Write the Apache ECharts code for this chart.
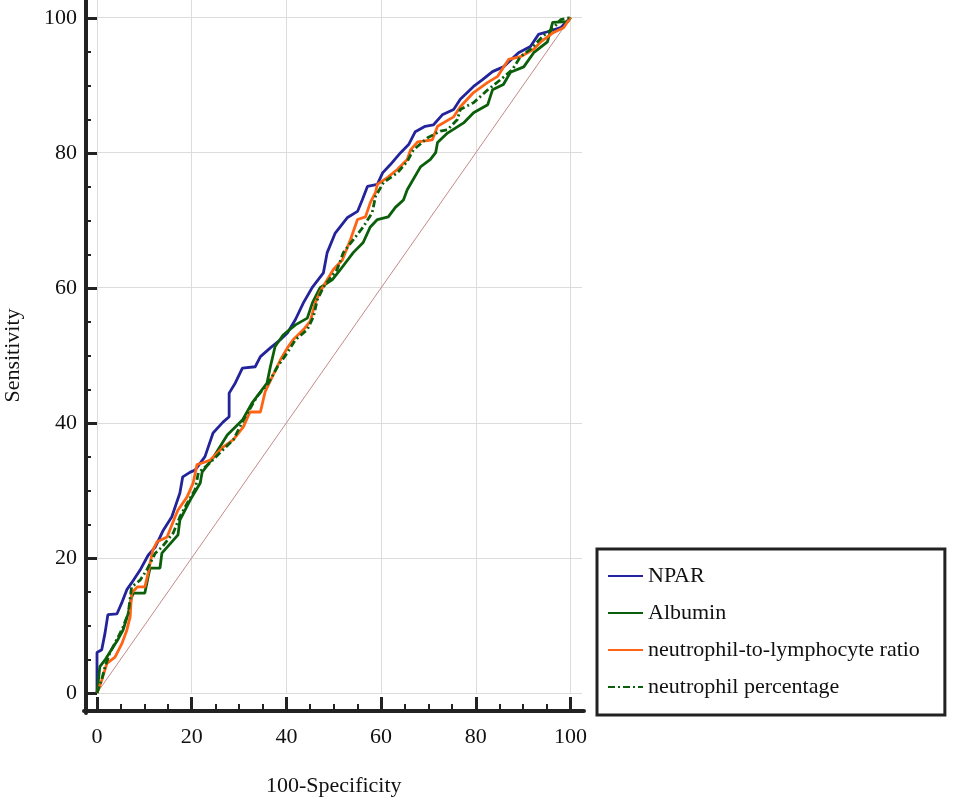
<!DOCTYPE html>
<html>
<head>
<meta charset="utf-8">
<script src="https://cdn.jsdelivr.net/npm/echarts@6/dist/echarts.min.js"></script>
<style>
  html, body { margin: 0; padding: 0; background: #fff; }
  #rocChart { width: 957px; height: 802px; }
</style>
</head>
<body>
<div id="rocChart"></div>
<script>
// ROC curves, points as [100-Specificity, Sensitivity]
var seriesNames = ['NPAR', 'Albumin', 'neutrophil-to-lymphocyte ratio', 'neutrophil percentage'];
var tickValues = [0, 20, 40, 60, 80, 100];

var npar = [[0,0],[0,6],[1,6.4],[1.7,8.9],[2.3,11.6],[4.2,11.7],[5.2,13.3],[6.3,15.3],[7.3,16.3],[9.1,18.2],
  [10.8,20.4],[12.3,21.6],[14,24.1],[15.8,26.1],[17.5,29.6],[18.1,32],[19.7,32.7],[20.7,33],[22.8,35],[24.5,38.5],
  [26.6,40.1],[27.9,40.9],[27.9,44.4],[29.2,45.9],[30.7,48.1],[33.4,48.3],[34.5,49.8],[36.6,51.1],[38.7,52.3],[40.2,53.3],
  [41.9,55.3],[43.6,57.8],[45.5,60.1],[47.8,62.2],[48.6,65.2],[50.3,68.1],[52.9,70.4],[55,71.3],[56,73],[57.1,75],
  [59.2,75.3],[60.3,77],[61.9,78.2],[64.1,80],[65.8,81.2],[67.2,83.1],[69.3,83.9],[71,84.1],[72.9,85.6],[75.3,86.4],
  [76.7,87.9],[79.5,89.8],[81.4,90.8],[83.5,92],[85.8,92.7],[89,94.8],[91.5,95.7],[93.2,97.5],[95.1,97.9],[97.9,98.5],[100,100]];

var albumin = [[0,0],[0.6,3.9],[1.7,4.9],[3.4,6.8],[4.4,7.9],[5.5,9.3],[6.6,11.8],[7.3,14.2],[7.7,14.8],[10.1,14.8],
  [10.8,17.2],[11.2,18.5],[13.3,18.5],[13.7,20.7],[17.1,23.4],[17.5,25.6],[19.7,28.6],[21.8,31.1],[22.2,32.7],[24.5,34.8],
  [27.5,38.2],[30.7,40.4],[32.8,43],[35.9,45.9],[36.6,48.3],[37.6,51.3],[39.3,53],[41.9,54.5],[44.4,55.5],[45.5,57.8],
  [47.1,60],[49.7,61.2],[51.4,62.7],[54.1,65.2],[56.2,66.7],[57.7,69],[59.2,70.1],[61.5,70.5],[63,71.9],[64.7,73],
  [65.5,74.5],[68.3,77.9],[70.4,79],[71.5,80],[71.9,81.5],[74,82.9],[77.4,84.4],[79.5,85.9],[82.5,87.1],[83.5,89.3],
  [85.8,90.1],[87.3,91.9],[90.1,92.7],[92.2,94.8],[95.1,96.4],[96.2,99.3],[99.4,99.4],[100,100]];

var nlr = [[0,0],[1,1.9],[2.1,4.4],[3.8,5.3],[5.3,7.4],[6.3,9.3],[7,11.3],[7.3,14.8],[8.5,15.7],[10.1,15.7],
  [10.8,17.8],[11.8,21.2],[12.7,22.4],[14.8,23.1],[16.5,26.1],[17.1,27.1],[19,29],[20.3,31.1],[21.1,33.8],[22.8,34.2],
  [23.9,34.5],[26.6,36.4],[28.8,37.5],[30.9,39.4],[32.3,41.6],[34.5,41.6],[35.5,44.6],[37,46.8],[38.7,49.3],[40.2,51.1],
  [41.4,52.3],[43.6,53.8],[45,55],[46.1,57.8],[47.1,59.4],[49.9,62.7],[51.8,64.1],[53.5,67.1],[55,70.1],[56.7,70.5],
  [57.7,72.6],[58.8,74.1],[59.2,75.3],[61.3,76.3],[63.4,77.5],[65.5,79],[66.2,80.4],[67.7,81.6],[70.8,81.9],[71.9,83.9],
  [75.3,85.3],[76.7,86.8],[79.5,88.9],[82.5,90.4],[84.6,91.3],[86.9,93.8],[89.4,94.2],[92.2,95.3],[93.7,96.4],[96.4,97.8],
  [98.5,98.5],[100,100]];

var neutPct = [[0,0],[1,2],[1.7,3.9],[2.7,5.9],[4.9,8.9],[5.5,9.8],[6.6,11.8],[7.3,15.7],[9.1,16.7],[10.5,18.2],
  [12.3,20.7],[13.7,21.6],[16.1,23.7],[17.5,26.1],[19.2,28.3],[20.7,30.1],[21.4,32.6],[23.9,34.1],[26.6,36],[28.8,37.5],
  [30.9,40.4],[33.8,43.9],[36.2,45.9],[38.1,48.3],[40.2,50.4],[41.9,52.3],[44.4,53.8],[45.7,55.7],[46.5,58.2],[47.8,60.1],
  [50.7,62.7],[52,65.2],[54.1,67.1],[56.2,69],[58.1,71.1],[58.8,73.5],[60.5,75.6],[63.4,77],[65.5,78.7],[66.8,80.4],
  [69.8,82.2],[72.5,83.2],[74,83.4],[76.1,84.9],[76.7,86.4],[79.5,87.4],[82.5,89.3],[85.2,90.8],[87.7,92.3],[89.4,94.2],
  [91.5,95.3],[94.1,97.2],[96.4,98.5],[97.9,99.7],[100,100]];

var chanceLine = [[0,0],[100,100]];

var fontName = 'Liberation Serif';
var myChart = echarts.init(document.getElementById('rocChart'), null, {renderer: 'canvas'});

function hiddenAxis(gridIndex) {
    return {type: 'value', gridIndex: gridIndex, show: false, min: 0, max: 1};
}

var option = {
    animation: false,
    backgroundColor: '#fff',
    grid: [
        // plot area, grid lines run a bit past 100
        {left: 97, top: 0, width: 485, height: 693},
        // ticks and labels, 0..100
        {left: 97, top: 18, width: 473.5, height: 675},
        // bottom axis line
        {left: 84, top: 690, width: 500, height: 21},
        // left axis line
        {left: 86, top: 0, width: 10, height: 713}
    ],
    legend: {
        data: seriesNames,
        orient: 'vertical',
        left: 597,
        top: 549,
        padding: [14, 25, 15, 10],
        itemGap: 11,
        itemWidth: 35,
        itemHeight: 14,
        borderColor: '#222',
        borderWidth: 3,
        backgroundColor: '#fff',
        itemStyle: {opacity: 0},
        textStyle: {fontFamily: fontName, fontSize: 22, color: '#111', lineHeight: 26, height: 26}
    },
    xAxis: [
        {
            type: 'value', gridIndex: 0, min: 0, max: 102.4, interval: 20,
            axisLine: {show: false}, axisTick: {show: false}, axisLabel: {show: false},
            splitLine: {show: true, showMaxLine: false, lineStyle: {color: '#dcdcdc', width: 1}}
        },
        {
            type: 'value', gridIndex: 1, min: tickValues[0], max: tickValues[tickValues.length - 1], interval: 20,
            offset: 18,
            axisLine: {show: true, onZero: false, lineStyle: {color: '#222', width: 4}},
            axisTick: {show: true, inside: true, length: 14, lineStyle: {color: '#222', width: 3}},
            minorTick: {show: true, splitNumber: 4, length: 7, lineStyle: {color: '#222', width: 2}},
            axisLabel: {margin: 15, fontFamily: fontName, fontSize: 22, color: '#111'},
            splitLine: {show: false},
            name: '100-Specificity', nameLocation: 'middle', nameGap: 64,
            nameTextStyle: {fontFamily: fontName, fontSize: 22, color: '#111'}
        },
        {
            type: 'value', gridIndex: 2, min: 0, max: 1, position: 'bottom',
            axisLine: {show: true, lineStyle: {color: '#222', width: 4}},
            axisTick: {show: false}, axisLabel: {show: false}, splitLine: {show: false}
        },
        hiddenAxis(3)
    ],
    yAxis: [
        {
            type: 'value', gridIndex: 0, min: 0, max: 102.6, interval: 20,
            axisLine: {show: false}, axisTick: {show: false}, axisLabel: {show: false},
            splitLine: {show: true, showMaxLine: false, lineStyle: {color: '#dcdcdc', width: 1}}
        },
        {
            type: 'value', gridIndex: 1, min: tickValues[0], max: tickValues[tickValues.length - 1], interval: 20,
            offset: 11,
            axisLine: {show: true, onZero: false, lineStyle: {color: '#222', width: 4}},
            axisTick: {show: true, inside: true, length: 11, lineStyle: {color: '#222', width: 3}},
            minorTick: {show: true, splitNumber: 4, length: 5, lineStyle: {color: '#222', width: 2}},
            axisLabel: {margin: 9, fontFamily: fontName, fontSize: 22, color: '#111'},
            splitLine: {show: false},
            name: 'Sensitivity', nameLocation: 'middle', nameGap: 62, nameRotate: 90,
            nameTextStyle: {fontFamily: fontName, fontSize: 22, color: '#111'}
        },
        hiddenAxis(2),
        {
            type: 'value', gridIndex: 3, min: 0, max: 1, position: 'left',
            axisLine: {show: true, lineStyle: {color: '#222', width: 4}},
            axisTick: {show: false}, axisLabel: {show: false}, splitLine: {show: false}
        }
    ],
    series: [
        {
            name: 'chance', type: 'line', xAxisIndex: 0, yAxisIndex: 0, symbol: 'none',
            lineStyle: {color: '#c48a8a', width: 1}, data: chanceLine, silent: true
        },
        {
            name: seriesNames[0], type: 'line', xAxisIndex: 0, yAxisIndex: 0, symbol: 'none',
            color: '#23239a', lineStyle: {color: '#23239a', width: 2.8}, data: npar
        },
        {
            name: seriesNames[1], type: 'line', xAxisIndex: 0, yAxisIndex: 0, symbol: 'none',
            color: '#0b5f0b', lineStyle: {color: '#0b5f0b', width: 2.8}, data: albumin
        },
        {
            name: seriesNames[2], type: 'line', xAxisIndex: 0, yAxisIndex: 0, symbol: 'none',
            color: '#ff6414', lineStyle: {color: '#ff6414', width: 2.8}, data: nlr
        },
        {
            name: seriesNames[3], type: 'line', xAxisIndex: 0, yAxisIndex: 0, symbol: 'none',
            color: '#0b5f0b', lineStyle: {color: '#0b5f0b', width: 2.8, type: [7, 3, 2, 3]}, data: neutPct
        }
    ]
};

myChart.setOption(option);
</script>
</body>
</html>
